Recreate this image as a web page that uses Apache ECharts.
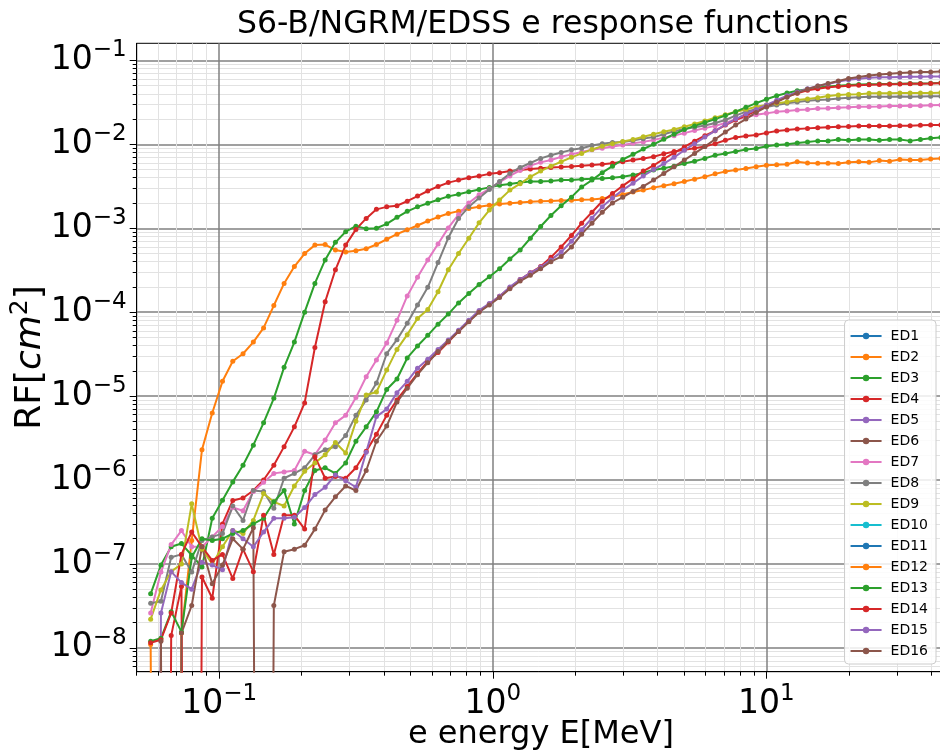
<!DOCTYPE html>
<html>
<head>
<meta charset="utf-8">
<script src="https://cdn.jsdelivr.net/npm/echarts@6.0.0/dist/echarts.min.js"></script>
<style>html,body{margin:0;padding:0;background:#fff;}</style>
</head>
<body>
<div id="main" style="width:940px;height:753px;"></div>
<script>
// electron energy grid [MeV]
var energy = [
  0.05623, 0.06131, 0.06683, 0.07286, 0.07943, 0.08660, 0.09441, 0.1029, 0.1122, 0.1223,
  0.1334, 0.1454, 0.1585, 0.1728, 0.1884, 0.2054, 0.2239, 0.2441, 0.2661, 0.2901,
  0.3162, 0.3448, 0.3758, 0.4097, 0.4467, 0.4870, 0.5309, 0.5788, 0.6310, 0.6879,
  0.7499, 0.8175, 0.8913, 0.9716, 1.059, 1.155, 1.259, 1.372, 1.496, 1.631,
  1.778, 1.939, 2.113, 2.304, 2.512, 2.738, 2.985, 3.255, 3.548, 3.868,
  4.217, 4.597, 5.012, 5.464, 5.957, 6.494, 7.079, 7.718, 8.414, 9.173,
  10.00, 10.90, 11.89, 12.96, 14.13, 15.40, 16.79, 18.31, 19.95, 21.75,
  23.71, 25.85, 28.18, 30.73, 33.50, 36.52, 39.81, 43.40
];

// response functions [cm^2], 0 = no counts
var ed1 = [];
var ed2 = [
  1.1e-8, 0, 0, 1.5e-8, 1.9e-7, 2.3e-6, 6.3e-6, 1.5e-5, 2.6e-5, 3.2e-5,
  4.4e-5, 6.5e-5, 1.2e-4, 2.2e-4, 3.5e-4, 5.0e-4, 6.3e-4, 6.4e-4, 5.5e-4, 5.2e-4,
  5.4e-4, 5.7e-4, 6.4e-4, 7.4e-4, 8.5e-4, 9.6e-4, 1.08e-3, 1.22e-3, 1.36e-3, 1.5e-3,
  1.6e-3, 1.72e-3, 1.8e-3, 1.88e-3, 1.95e-3, 1.99e-3, 2.03e-3, 2.07e-3, 2.1e-3, 2.12e-3,
  2.14e-3, 2.16e-3, 2.18e-3, 2.2e-3, 2.26e-3, 2.38e-3, 2.52e-3, 2.7e-3, 2.85e-3, 3.05e-3,
  3.22e-3, 3.4e-3, 3.6e-3, 3.85e-3, 4.1e-3, 4.45e-3, 4.75e-3, 4.95e-3, 5.15e-3, 5.4e-3,
  5.65e-3, 5.7e-3, 5.8e-3, 6.2e-3, 6.0e-3, 5.95e-3, 5.95e-3, 5.9e-3, 6.1e-3, 6.2e-3,
  6.1e-3, 6.4e-3, 6.3e-3, 6.6e-3, 6.5e-3, 6.5e-3, 6.7e-3, 6.8e-3
];
var ed3 = [
  4.4e-8, 9.7e-8, 1.6e-7, 1.75e-7, 1.27e-7, 9.2e-8, 3.5e-7, 5.75e-7, 9.5e-7, 1.5e-6,
  2.6e-6, 4.8e-6, 9.4e-6, 2.2e-5, 4.4e-5, 1.0e-4, 2.2e-4, 4.2e-4, 6.8e-4, 9.1e-4,
  1.06e-3, 9.9e-4, 1.0e-3, 1.13e-3, 1.35e-3, 1.59e-3, 1.8e-3, 1.99e-3, 2.19e-3, 2.4e-3,
  2.55e-3, 2.72e-3, 2.9e-3, 3.07e-3, 3.25e-3, 3.37e-3, 3.5e-3, 3.6e-3, 3.6e-3, 3.65e-3,
  3.75e-3, 3.75e-3, 3.85e-3, 3.88e-3, 3.93e-3, 4.0e-3, 4.1e-3, 4.3e-3, 4.6e-3, 4.94e-3,
  5.2e-3, 5.5e-3, 5.9e-3, 6.3e-3, 6.8e-3, 7.4e-3, 7.8e-3, 8.2e-3, 8.7e-3, 8.9e-3,
  9.5e-3, 9.8e-3, 1.0e-2, 1.04e-2, 1.07e-2, 1.1e-2, 1.1e-2, 1.14e-2, 1.12e-2, 1.14e-2,
  1.14e-2, 1.12e-2, 1.14e-2, 1.14e-2, 1.1e-2, 1.14e-2, 1.18e-2, 1.21e-2
];
var ed4 = [
  0, 0, 1.4e-8, 5.4e-8, 0, 7.0e-8, 3.9e-8, 3.0e-7, 5.7e-7, 6.1e-7,
  7.5e-7, 1.0e-6, 1.5e-6, 2.5e-6, 4.3e-6, 8.3e-6, 3.8e-5, 1.33e-4, 3.2e-4, 6.3e-4,
  9.7e-4, 1.31e-3, 1.68e-3, 1.8e-3, 1.86e-3, 2.1e-3, 2.42e-3, 2.78e-3, 3.15e-3, 3.5e-3,
  3.75e-3, 4.0e-3, 4.2e-3, 4.45e-3, 4.6e-3, 4.8e-3, 4.95e-3, 5.1e-3, 5.2e-3, 5.3e-3,
  5.37e-3, 5.45e-3, 5.55e-3, 5.66e-3, 5.8e-3, 5.94e-3, 6.2e-3, 6.5e-3, 6.8e-3, 7.1e-3,
  7.7e-3, 8.2e-3, 8.6e-3, 9.0e-3, 9.4e-3, 1.02e-2, 1.12e-2, 1.21e-2, 1.26e-2, 1.29e-2,
  1.37e-2, 1.44e-2, 1.48e-2, 1.52e-2, 1.55e-2, 1.58e-2, 1.6e-2, 1.62e-2, 1.63e-2, 1.65e-2,
  1.65e-2, 1.66e-2, 1.66e-2, 1.67e-2, 1.67e-2, 1.69e-2, 1.7e-2, 1.7e-2
];
var ed5 = [];
var ed6 = [];
var ed7 = [
  2.6e-8, 8.0e-8, 1.7e-7, 2.5e-7, 1.6e-7, 1.6e-7, 2.1e-7, 2.8e-7, 4.7e-7, 4.3e-7,
  7.3e-7, 9.4e-7, 1.2e-6, 1.25e-6, 1.3e-6, 2.2e-6, 2.0e-6, 3.0e-6, 4.8e-6, 5.9e-6,
  9.6e-6, 1.7e-5, 2.7e-5, 4.3e-5, 8.0e-5, 1.56e-4, 2.6e-4, 4.2e-4, 6.5e-4, 1.01e-3,
  1.45e-3, 2.0e-3, 2.5e-3, 2.95e-3, 3.55e-3, 4.2e-3, 4.9e-3, 5.6e-3, 6.1e-3, 6.5e-3,
  7.1e-3, 7.6e-3, 8.1e-3, 8.6e-3, 9.0e-3, 9.4e-3, 9.8e-3, 1.03e-2, 1.07e-2, 1.13e-2,
  1.2e-2, 1.27e-2, 1.36e-2, 1.46e-2, 1.56e-2, 1.66e-2, 1.8e-2, 1.98e-2, 2.12e-2, 2.25e-2,
  2.34e-2, 2.45e-2, 2.5e-2, 2.56e-2, 2.6e-2, 2.68e-2, 2.7e-2, 2.73e-2, 2.76e-2, 2.8e-2,
  2.8e-2, 2.82e-2, 2.86e-2, 2.86e-2, 2.88e-2, 2.88e-2, 2.92e-2, 2.94e-2
];
var ed8 = [
  3.4e-8, 3.6e-8, 1.2e-7, 1.3e-7, 8.0e-8, 1.9e-7, 2.1e-7, 2.3e-7, 4.9e-7, 3.3e-7,
  7.5e-7, 7.3e-7, 4.6e-7, 1.05e-6, 1.2e-6, 1.4e-6, 2.0e-6, 2.3e-6, 2.5e-6, 3.4e-6,
  5.9e-6, 9.0e-6, 1.43e-5, 3.2e-5, 4.7e-5, 7.4e-5, 1.22e-4, 1.98e-4, 3.9e-4, 7.7e-4,
  1.31e-3, 1.8e-3, 2.3e-3, 2.9e-3, 3.6e-3, 4.5e-3, 5.3e-3, 6.0e-3, 6.8e-3, 7.4e-3,
  8.0e-3, 8.6e-3, 9.0e-3, 9.7e-3, 1.02e-2, 1.05e-2, 1.07e-2, 1.11e-2, 1.17e-2, 1.22e-2,
  1.32e-2, 1.43e-2, 1.52e-2, 1.6e-2, 1.68e-2, 1.8e-2, 1.95e-2, 2.2e-2, 2.45e-2, 2.62e-2,
  2.78e-2, 2.94e-2, 3.08e-2, 3.2e-2, 3.3e-2, 3.37e-2, 3.43e-2, 3.53e-2, 3.6e-2, 3.65e-2,
  3.68e-2, 3.7e-2, 3.7e-2, 3.72e-2, 3.7e-2, 3.72e-2, 3.73e-2, 3.73e-2
];
var ed9 = [
  2.2e-8, 4.9e-8, 8.1e-8, 1.0e-7, 5.2e-7, 1.5e-7, 1.0e-7, 1.6e-7, 2.5e-7, 2.3e-7,
  3.3e-7, 6.9e-7, 5.5e-7, 4.9e-7, 8.5e-7, 1.27e-6, 1.6e-6, 2.0e-6, 2.8e-6, 2.1e-6,
  5.0e-6, 1.03e-5, 1.12e-5, 2.04e-5, 3.6e-5, 5.4e-5, 8.4e-5, 1.08e-4, 1.75e-4, 3.2e-4,
  5.0e-4, 7.6e-4, 1.16e-3, 1.65e-3, 2.17e-3, 2.85e-3, 3.4e-3, 4.1e-3, 4.8e-3, 5.5e-3,
  6.2e-3, 7.0e-3, 7.8e-3, 8.7e-3, 9.5e-3, 1.02e-2, 1.08e-2, 1.14e-2, 1.23e-2, 1.32e-2,
  1.41e-2, 1.5e-2, 1.62e-2, 1.75e-2, 1.9e-2, 2.08e-2, 2.25e-2, 2.45e-2, 2.6e-2, 2.8e-2,
  2.94e-2, 3.08e-2, 3.2e-2, 3.37e-2, 3.46e-2, 3.6e-2, 3.77e-2, 3.87e-2, 3.94e-2, 3.96e-2,
  4.05e-2, 4.05e-2, 4.05e-2, 4.1e-2, 4.1e-2, 4.08e-2, 4.1e-2, 4.12e-2
];
var ed10 = [];
var ed11 = [];
var ed12 = [];
var ed13 = [
  1.2e-8, 1.3e-8, 2.7e-8, 1.55e-8, 1.2e-7, 2.0e-7, 1.9e-7, 2.0e-7, 2.3e-7, 2.5e-7,
  3.0e-7, 3.5e-7, 5.5e-7, 7.5e-7, 3.0e-7, 7.5e-7, 1.3e-6, 1.4e-6, 1.2e-6, 1.6e-6,
  2.9e-6, 4.3e-6, 6.5e-6, 1.2e-5, 1.6e-5, 2.85e-5, 3.95e-5, 5.3e-5, 7.2e-5, 9.5e-5,
  1.29e-4, 1.67e-4, 2.14e-4, 2.64e-4, 3.3e-4, 4.3e-4, 5.5e-4, 7.6e-4, 1.05e-3, 1.42e-3,
  1.85e-3, 2.35e-3, 3.1e-3, 3.75e-3, 4.6e-3, 5.5e-3, 6.6e-3, 7.6e-3, 8.8e-3, 1.0e-2,
  1.15e-2, 1.32e-2, 1.5e-2, 1.66e-2, 1.82e-2, 2.0e-2, 2.2e-2, 2.45e-2, 2.76e-2, 3.1e-2,
  3.45e-2, 3.8e-2, 4.1e-2, 4.35e-2, 4.55e-2, 4.75e-2, 4.9e-2, 5.0e-2, 5.1e-2, 5.15e-2,
  5.2e-2, 5.22e-2, 5.25e-2, 5.28e-2, 5.3e-2, 5.3e-2, 5.33e-2, 5.38e-2
];
var ed14 = [
  1.15e-8, 1.25e-8, 2.6e-8, 1.3e-7, 2.4e-7, 1.6e-7, 1.1e-7, 1.3e-7, 6.7e-8, 1.5e-7,
  8.1e-8, 3.8e-7, 1.3e-7, 3.8e-7, 3.8e-7, 2.6e-7, 1.9e-6, 1.05e-6, 1.1e-6, 1.05e-6,
  1.4e-6, 2.2e-6, 3.5e-6, 5.9e-6, 9.0e-6, 1.3e-5, 1.86e-5, 2.6e-5, 3.3e-5, 4.4e-5,
  5.9e-5, 7.8e-5, 1.02e-4, 1.25e-4, 1.55e-4, 1.95e-4, 2.45e-4, 2.95e-4, 3.5e-4, 4.5e-4,
  6.0e-4, 8.2e-4, 1.15e-3, 1.55e-3, 2.1e-3, 2.6e-3, 3.2e-3, 3.9e-3, 4.8e-3, 5.6e-3,
  6.7e-3, 7.9e-3, 9.3e-3, 1.09e-2, 1.27e-2, 1.45e-2, 1.7e-2, 1.95e-2, 2.2e-2, 2.5e-2,
  2.84e-2, 3.2e-2, 3.7e-2, 4.05e-2, 4.4e-2, 4.6e-2, 4.78e-2, 4.9e-2, 5.0e-2, 5.05e-2,
  5.13e-2, 5.15e-2, 5.2e-2, 5.23e-2, 5.27e-2, 5.27e-2, 5.3e-2, 5.37e-2
];
var ed15 = [
  0, 2.6e-8, 8.1e-8, 6.0e-8, 5.0e-8, 1.05e-7, 9.7e-8, 8.5e-8, 2.5e-7, 2.0e-7,
  1.6e-7, 2.4e-7, 3.5e-7, 3.5e-7, 3.6e-7, 4.7e-7, 6.7e-7, 8.2e-7, 1.15e-6, 9.8e-7,
  8.2e-7, 2.15e-6, 5.7e-6, 7.0e-6, 1.1e-5, 1.5e-5, 2.15e-5, 2.75e-5, 3.6e-5, 4.65e-5,
  6.1e-5, 8.0e-5, 1.05e-4, 1.27e-4, 1.55e-4, 2.0e-4, 2.45e-4, 2.95e-4, 3.45e-4, 4.2e-4,
  5.2e-4, 7.0e-4, 9.6e-4, 1.32e-3, 1.8e-3, 2.3e-3, 2.85e-3, 3.45e-3, 4.2e-3, 5.0e-3,
  5.9e-3, 7.0e-3, 8.5e-3, 1.02e-2, 1.22e-2, 1.45e-2, 1.72e-2, 2.0e-2, 2.3e-2, 2.6e-2,
  2.95e-2, 3.35e-2, 3.8e-2, 4.2e-2, 4.6e-2, 4.95e-2, 5.25e-2, 5.6e-2, 5.9e-2, 6.05e-2,
  6.2e-2, 6.3e-2, 6.3e-2, 6.35e-2, 6.4e-2, 6.4e-2, 6.45e-2, 6.45e-2
];
var ed16 = [
  0, 1.2e-8, 0, 1.5e-8, 3.2e-8, 1.6e-7, 5.8e-8, 9.7e-8, 2.0e-7, 1.5e-7,
  2.7e-7, 0, 3.2e-8, 1.4e-7, 1.5e-7, 1.67e-7, 2.6e-7, 4.4e-7, 6.3e-7, 8.5e-7,
  7.5e-7, 1.3e-6, 2.9e-6, 4.4e-6, 8.5e-6, 1.24e-5, 1.8e-5, 2.5e-5, 3.4e-5, 4.5e-5,
  5.9e-5, 7.7e-5, 1.0e-4, 1.22e-4, 1.5e-4, 1.9e-4, 2.35e-4, 2.75e-4, 3.3e-4, 4.0e-4,
  4.6e-4, 6.0e-4, 8.5e-4, 1.15e-3, 1.55e-3, 2.0e-3, 2.35e-3, 2.75e-3, 3.15e-3, 3.75e-3,
  4.5e-3, 5.4e-3, 6.5e-3, 7.8e-3, 9.4e-3, 1.15e-2, 1.4e-2, 1.7e-2, 2.0e-2, 2.4e-2,
  2.8e-2, 3.2e-2, 3.65e-2, 4.1e-2, 4.55e-2, 4.95e-2, 5.3e-2, 5.7e-2, 6.1e-2, 6.35e-2,
  6.6e-2, 6.8e-2, 6.95e-2, 7.1e-2, 7.2e-2, 7.28e-2, 7.3e-2, 7.4e-2
];

var seriesNames = ['ED1','ED2','ED3','ED4','ED5','ED6','ED7','ED8','ED9','ED10','ED11','ED12','ED13','ED14','ED15','ED16'];
var seriesValues = [ed1, ed2, ed3, ed4, ed5, ed6, ed7, ed8, ed9, ed10, ed11, ed12, ed13, ed14, ed15, ed16];
var colors = ['#1f77b4','#ff7f0e','#2ca02c','#d62728','#9467bd','#8c564b','#e377c2','#7f7f7f','#bcbd22','#17becf',
              '#1f77b4','#ff7f0e','#2ca02c','#d62728','#9467bd','#8c564b'];

// tick positions
var xMajor = [0.1, 1, 10];
var yMajor = [1e-8, 1e-7, 1e-6, 1e-5, 1e-4, 1e-3, 1e-2, 1e-1];
var xMinor = [], yMinor = [];
for (var p = -2; p <= 1; p++) for (var m = 2; m <= 9; m++) xMinor.push(m * Math.pow(10, p));
for (var q = -9; q <= -1; q++) for (var n = 2; n <= 9; n++) yMinor.push(n * Math.pow(10, q));

var FONT = 'DejaVu Sans';
var X_MIN = 0.05, X_MAX = 45, Y_MIN = 5.2e-9, Y_MAX = 0.16;
// zero counts fall off the bottom of a log axis
var FLOOR = 1e-30;

function powLabel(v) {
  var e = Math.round(Math.log10(v));
  return '{b|10}{s|' + (e < 0 ? '\u2212' : '') + Math.abs(e) + '}';
}
var tickRich = {
  b: {fontSize: 33, fontFamily: FONT, color: '#000'},
  s: {fontSize: 23, fontFamily: FONT, color: '#000', padding: [0, 0, 20, 0]}
};

function majorAxis(dim) {
  var isX = dim === 'x';
  return {
    type: 'log', logBase: 10,
    min: isX ? X_MIN : Y_MIN, max: isX ? X_MAX : Y_MAX,
    position: isX ? 'bottom' : 'left',
    axisLine: {show: true, onZero: false, lineStyle: {color: '#000', width: 1}},
    axisTick: {show: true, customValues: isX ? xMajor : yMajor, length: 7, lineStyle: {color: '#000', width: 1}},
    axisLabel: {customValues: isX ? xMajor : yMajor, formatter: powLabel, rich: tickRich, margin: isX ? 11 : 10},
    splitLine: {show: true, lineStyle: {color: '#808080', width: 1.5}},
    minorTick: {show: false}, minorSplitLine: {show: false}
  };
}
function minorAxis(dim) {
  var isX = dim === 'x';
  return {
    type: 'log', logBase: 10,
    min: isX ? X_MIN : Y_MIN, max: isX ? X_MAX : Y_MAX,
    position: isX ? 'bottom' : 'left',
    axisLine: {show: false, onZero: false},
    axisTick: {show: true, customValues: isX ? xMinor : yMinor, length: 4, lineStyle: {color: '#000', width: 1}},
    axisLabel: {show: false},
    splitLine: {show: true, lineStyle: {color: '#e2e2e2', width: 1}},
    minorTick: {show: false}, minorSplitLine: {show: false}
  };
}

var xMain = majorAxis('x');
xMain.name = 'e energy E[MeV]';
xMain.nameLocation = 'middle';
xMain.nameGap = 47;
xMain.nameMoveOverlap = false;
xMain.nameTextStyle = {fontSize: 32, fontFamily: FONT, color: '#000'};

var yMain = majorAxis('y');
yMain.name = '{n|RF[}{i|cm}{s|2}{n|]}';
yMain.nameLocation = 'middle';
yMain.nameGap = 84;
yMain.nameMoveOverlap = false;
yMain.nameTextStyle = {
  rich: {
    n: {fontSize: 36, fontFamily: FONT, color: '#000'},
    i: {fontSize: 36, fontFamily: FONT, fontStyle: 'italic', color: '#000'},
    s: {fontSize: 25, fontFamily: FONT, color: '#000', padding: [0, 0, 20, 0]}
  }
};

var series = seriesNames.map(function (name, i) {
  return {
    name: name,
    type: 'line',
    xAxisIndex: 0, yAxisIndex: 0,
    data: seriesValues[i].map(function (v, k) { return [energy[k], v > 0 ? v : FLOOR]; }),
    symbol: 'circle', symbolSize: 5,
    itemStyle: {color: colors[i]},
    lineStyle: {color: colors[i], width: 2},
    emphasis: {disabled: true},
    clip: true
  };
});

var myChart = echarts.init(document.getElementById('main'));
myChart.setOption({
  animation: false,
  title: {
    text: 'S6-B/NGRM/EDSS e response functions',
    left: 538, top: 4, textAlign: 'center',
    textStyle: {fontSize: 31.5, fontWeight: 'normal', fontFamily: FONT, color: '#000'}
  },
  grid: {
    left: 136.7, top: 43.3, width: 808.5, height: 628.4,
    outerBoundsMode: 'none', containLabel: false,
    show: true, borderColor: '#000', borderWidth: 1, backgroundColor: 'transparent'
  },
  legend: {
    data: seriesNames,
    orient: 'vertical', right: 4, top: 320,
    itemWidth: 31, itemHeight: 8, itemGap: 7,
    padding: [9, 8, 6, 5],
    backgroundColor: 'rgba(255,255,255,0.85)', borderColor: '#cccccc', borderWidth: 1, borderRadius: 4,
    textStyle: {fontSize: 14, lineHeight: 14, fontFamily: FONT, color: '#000', padding: [0, 0, 0, 4]}
  },
  xAxis: [xMain, minorAxis('x')],
  yAxis: [yMain, minorAxis('y')],
  series: series
});
</script>
</body>
</html>
